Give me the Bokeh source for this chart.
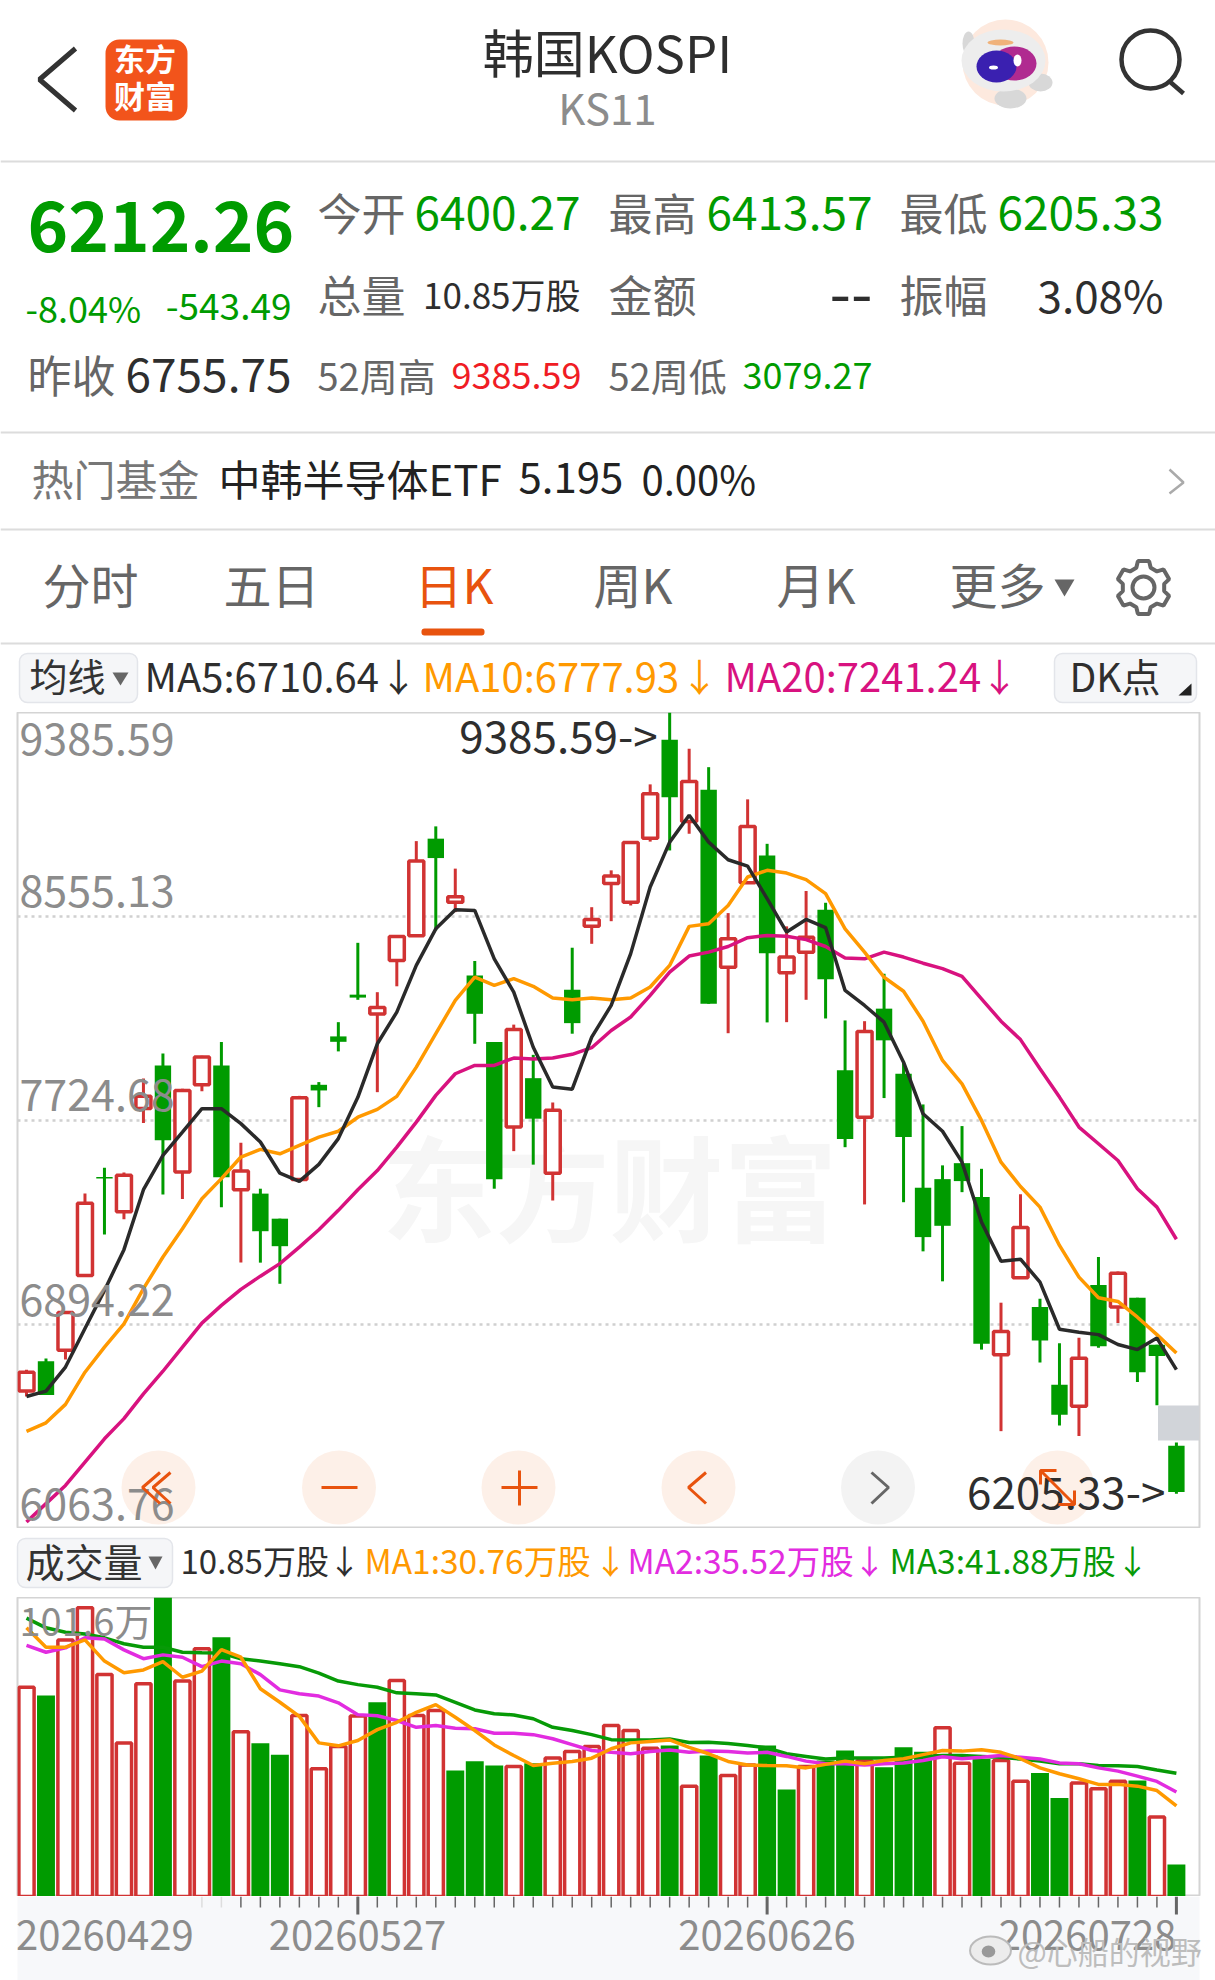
import numpy as np
from bokeh.core.properties import value
from bokeh.embed import file_html
from bokeh.layouts import column
from bokeh.models import FixedTicker, Grid, Range1d
from bokeh.plotting import figure
from bokeh.resources import INLINE

FONT = "Noto Sans CJK SC"
RED = "#d13333"
GREEN = "#009b00"
ORANGE = "#ff9900"
GRAY = "#8c8c8c"
DARK = "#2e2e2e"
BTN = "#e8530e"

opens = [6623, 6745, 6789, 7094, 7495, 7353, 7774, 7949, 7515, 7870, 7949, 7443, 7427, 7325, 7484,
         7870, 8067, 8237, 8158, 8376, 8477, 8872, 8613, 8315, 8044, 7698, 7897, 7510, 8257, 8515,
         8689, 8613, 8874, 9275, 8942, 9071, 8349, 8693, 8803, 8326, 8410, 8583, 7929, 7738, 8180,
         7915, 7451, 7486, 7551, 7413, 6771, 7085, 6965, 6649, 6561, 7055, 6965, 7003, 6812, 6400.27]
closes = [6700, 6607, 6943, 7388, 7489, 7502, 7823, 7644, 7847, 7983, 7494, 7519, 7274, 7213, 7817,
          7847, 8045, 8225, 8185, 8474, 8781, 8793, 8636, 8159, 7486, 8095, 7732, 7766, 8121, 8543,
          8720, 8856, 9055, 9041, 9105, 8200, 8465, 8922, 8406, 8390, 8471, 8300, 7649, 8087, 8051,
          7657, 7250, 7296, 7478, 6816, 6866, 7289, 6829, 6527, 6757, 6806, 7103, 6700, 6766, 6212.26]
highs = [6710, 6756, 6943, 7427, 7532, 7513, 7896, 7997, 7854, 7988, 8044, 7634, 7447, 7325, 7825,
         7881, 8125, 8448, 8247, 8474, 8862, 8922, 8750, 8374, 8044, 8115, 7992, 7798, 8428, 8593,
         8743, 8862, 9093, 9385.59, 9238, 9163, 8569, 9032, 8851, 8515, 8659, 8611, 8132, 8129, 8322,
         7962, 7790, 7542, 7702, 7528, 6983, 7424, 6999, 6818, 6840, 7169, 7110, 7003, 6812, 6413.57]
lows = [6601, 6607, 6752, 7094, 7261, 7323, 7714, 7423, 7405, 7844, 7372, 7147, 7146, 7060, 7480,
        7779, 8006, 8216, 7840, 8271, 8477, 8499, 8573, 8037, 7447, 7600, 7545, 7399, 8078, 8444,
        8536, 8600, 8860, 8824, 8892, 8200, 8080, 8693, 8124, 8125, 8216, 8140, 7616, 7383, 7816,
        7392, 7192, 7070, 7433, 6792, 6460, 7085, 6740, 6483, 6440, 6800, 6900, 6660, 6566, 6205.33]

ma5 = [6601, 6623, 6721, 6878, 7033, 7199, 7443, 7583, 7677, 7773, 7773, 7712, 7637, 7510, 7477,
       7546, 7651, 7819, 8037, 8166, 8356, 8505, 8583, 8580, 8383, 8247, 8023, 7861, 7852, 8064,
       8193, 8404, 8675, 8858, 8967, 8858, 8786, 8760, 8628, 8492, 8543, 8510, 8254, 8193, 8125,
       7962, 7752, 7681, 7555, 7311, 7152, 7160, 7067, 6875, 6863, 6853, 6813, 6792, 6839, 6710.64]
ma10 = [6459, 6494, 6569, 6700, 6802, 6897, 7040, 7169, 7284, 7406, 7488, 7576, 7607, 7589, 7623,
        7657, 7681, 7738, 7770, 7823, 7942, 8078, 8214, 8308, 8275, 8302, 8271, 8223, 8216, 8223,
        8216, 8223, 8268, 8356, 8515, 8526, 8600, 8716, 8743, 8732, 8705, 8648, 8505, 8410, 8308,
        8251, 8129, 7969, 7874, 7725, 7555, 7456, 7372, 7216, 7087, 7003, 6988, 6924, 6853, 6777.93]
ma20 = [6090, 6165, 6239, 6334, 6429, 6511, 6612, 6704, 6802, 6900, 6972, 7037, 7091, 7142, 7209,
        7280, 7359, 7443, 7521, 7616, 7718, 7827, 7915, 7949, 7949, 7979, 7975, 7979, 7994, 8021,
        8091, 8146, 8234, 8329, 8394, 8410, 8433, 8469, 8478, 8475, 8461, 8433, 8386, 8383, 8410,
        8390, 8365, 8343, 8311, 8220, 8129, 8054, 7935, 7820, 7698, 7630, 7562, 7447, 7372, 7241.24]

volumes = [71.1, 68.3, 87.2, 98.1, 75.4, 52.2, 72.3, 101.6, 73.2, 84.2, 88.1, 56.0, 52.1, 48.2, 61.5,
           43.4, 51.0, 61.3, 66.0, 73.4, 61.5, 63.2, 42.8, 46.0, 44.5, 44.2, 45.3, 47.1, 49.3, 51.0,
           58.1, 56.4, 50.4, 51.3, 37.5, 47.9, 41.1, 44.7, 51.3, 36.4, 44.2, 46.2, 49.6, 46.2, 43.9,
           50.7, 49.2, 57.3, 45.3, 46.7, 46.2, 39.2, 42.0, 33.5, 38.6, 36.6, 39.2, 39.4, 27.0, 10.85]
vol_up = [1, 0, 1, 1, 1, 1, 1, 0, 1, 1, 0, 1, 0, 0, 1,
          1, 1, 1, 0, 1, 1, 1, 0, 0, 0, 1, 0, 1, 1, 1,
          1, 1, 1, 0, 1, 0, 1, 1, 0, 0, 1, 0, 0, 1, 0,
          0, 0, 1, 1, 0, 1, 1, 0, 0, 1, 1, 1, 0, 1, 0]
vol_ma1 = [91.3, 84.7, 84.7, 87.2, 80.0, 76.0, 77.0, 79.8, 74.5, 76.6, 83.9, 81.3, 70.6, 66.0, 61.2,
           52.2, 51.2, 53.0, 56.7, 59.2, 62.6, 65.2, 60.9, 56.4, 51.5, 47.9, 44.5, 45.3, 45.9, 47.0,
           50.2, 52.2, 52.7, 53.2, 50.7, 48.5, 45.9, 44.7, 44.5, 44.4, 43.7, 44.9, 46.0, 45.1, 46.2,
           46.8, 48.2, 49.6, 49.4, 49.9, 49.0, 46.8, 43.7, 41.7, 40.0, 38.1, 38.1, 37.5, 36.0, 30.76]
vol_ma2 = [85.3, 83.0, 84.5, 87.9, 87.5, 83.8, 80.8, 82.1, 81.3, 78.1, 80.0, 79.1, 75.4, 70.2, 68.9,
           68.1, 65.8, 61.8, 61.4, 59.8, 57.5, 58.1, 57.2, 57.0, 55.5, 55.5, 55.0, 53.6, 51.6, 49.6,
           49.0, 48.5, 49.3, 49.8, 49.0, 49.4, 49.3, 48.8, 49.0, 47.6, 46.0, 45.1, 45.1, 44.7, 45.1,
           45.4, 46.2, 47.5, 46.8, 47.3, 47.9, 47.3, 46.7, 45.4, 45.1, 43.7, 42.6, 40.9, 39.1, 35.52]
vol_ma3 = [94.6, 91.3, 89.8, 89.2, 87.9, 85.9, 84.7, 84.7, 83.0, 82.8, 82.7, 80.8, 80.0, 79.1, 78.1,
           75.9, 73.2, 72.0, 71.1, 69.2, 68.9, 68.5, 66.0, 63.4, 62.1, 61.7, 60.4, 57.5, 56.4, 55.0,
           53.3, 53.2, 53.2, 53.5, 52.3, 52.4, 52.0, 51.3, 50.5, 48.5, 47.6, 46.7, 47.1, 47.1, 47.1,
           47.3, 47.6, 47.9, 47.9, 47.6, 47.3, 46.7, 46.0, 45.1, 45.1, 44.5, 44.4, 44.2, 43.0, 41.88]

price_ticks = [9385.59, 8555.13, 7724.68, 6894.22, 6063.76]
date_ticks = [17, 38, 59]
date_labels = ["20260527", "20260626", "20260728"]
minor_ticks = list(range(11, 59))
faint_ticks = [9, 10]

n = len(opens)
idx = np.arange(n)
opens = np.array(opens)
closes = np.array(closes)
highs = np.array(highs)
lows = np.array(lows)
volumes = np.array(volumes)
vol_up = np.array(vol_up) == 1
up = closes > opens


def x_of(px):
    return (px - 26) / 19.49


def y_of(py):
    return 9385.59 - (py - 712) * 3321.83 / 816


def txt(fig, x, y, s, size, color, align="left", style="normal"):
    fig.text(x=[x], y=[y], text=[s], text_font=value(FONT), text_font_size=f"{size}px",
             text_color=color, text_align=align, text_baseline="middle",
             text_font_style=style)


# same as txt, less the font's side bearing and its low middle baseline
def htxt(fig, x, y, s, size, color, align="left", style="normal"):
    txt(fig, x - 2 if align == "left" else x, y - 3, s, size, color, align, style)


def make_fig(height, x_range, y_range, left=0, right=0):
    fig = figure(width=1215, height=height, x_range=x_range, y_range=y_range,
                 x_axis_type=None, y_axis_type=None, toolbar_location=None,
                 output_backend="svg", min_border_left=left, min_border_right=right,
                 min_border_top=0, min_border_bottom=0, frame_align=False)
    return fig


# header, drawn in page pixels
head = make_fig(712, Range1d(0, 1215), Range1d(712, 0))
head.outline_line_color = None

for yy in [161, 432, 529, 643]:
    head.line([0, 1215], [yy, yy], color="#dcdcdc", line_width=2)

head.line([75, 39, 75], [48, 79, 110], color="#333333", line_width=5)
head.quad(left=105, right=187, top=39, bottom=120, fill_color="#f2541b", line_color=None, border_radius=14)
htxt(head, 144.5, 60, "东方", 31, "white", "center", "bold")
htxt(head, 144.5, 97, "财富", 31, "white", "center", "bold")

htxt(head, 607, 53, "韩国KOSPI", 51, DARK, "center")
htxt(head, 607, 109, "KS11", 42, GRAY, "center")

# robot
head.ellipse([1005], [62], width=86, height=86, fill_color="#fde9de", line_color=None)
head.ellipse([968, 1040, 1010], [43, 82, 98], width=[12, 24, 32], height=[24, 18, 20],
             fill_color="#d8d8d8", line_color=None)
head.ellipse([1003], [60], width=84, height=62, fill_color="#ededed", line_color=None)
head.ellipse([1000], [42], width=26, height=6, fill_color="#f0b27a", line_color=None)
head.ellipse([1014], [63], width=44, height=34, fill_color="#b02a90", line_color=None)
head.ellipse([996], [66], width=40, height=32, fill_color="#3a20b0", line_color=None)
head.ellipse([1017, 993], [60, 67], width=[8, 9], height=[12, 4], fill_color="white", line_color=None)

# search
head.ellipse([1150], [59], width=58, height=58, fill_color=None, line_color="#333333", line_width=4.5)
head.line([1168, 1183], [80, 93], color="#333333", line_width=4.5)

htxt(head, 29, 229, "6212.26", 69, GREEN, style="bold")
htxt(head, 319, 214, "今开", 44, "#666666")
htxt(head, 580, 215, "6400.27", 46, GREEN, "right")
htxt(head, 610, 214, "最高", 44, "#666666")
htxt(head, 872, 215, "6413.57", 46, GREEN, "right")
htxt(head, 901, 214, "最低", 44, "#666666")
htxt(head, 1163, 215, "6205.33", 46, GREEN, "right")

htxt(head, 319, 296, "总量", 44, "#666666")
htxt(head, 580, 296, "10.85万股", 35, DARK, "right")
htxt(head, 610, 296, "金额", 44, "#666666")
htxt(head, 872, 296, "--", 62, DARK, "right")
htxt(head, 901, 296, "振幅", 44, "#666666")
htxt(head, 1163, 296, "3.08%", 44, DARK, "right")

htxt(head, 27, 309, "-8.04%", 36, GREEN)
htxt(head, 291, 309, "-543.49", 37, GREEN, "right")

htxt(head, 29, 376, "昨收", 44, "#666666")
htxt(head, 291, 377, "6755.75", 46, DARK, "right")
htxt(head, 319, 377, "52周高", 38, "#666666")
htxt(head, 581, 378, "9385.59", 36, "#f01c24", "right")
htxt(head, 610, 377, "52周低", 38, "#666666")
htxt(head, 872, 378, "3079.27", 36, GREEN, "right")

htxt(head, 33, 480, "热门基金", 42, "#777777")
htxt(head, 220, 480, "中韩半导体ETF", 42, "#222222")
htxt(head, 520, 480, "5.195", 42, "#222222")
htxt(head, 643, 480, "0.00%", 40, "#222222")
head.line([1169, 1183, 1169], [469, 482, 493], color="#aaaaaa", line_width=2.5)

for xx, s, col in [(44, "分时", "#666666"), (225, "五日", "#666666"), (416, "日K", BTN),
                   (595, "周K", "#666666"), (778, "月K", "#666666"), (951, "更多", "#666666")]:
    htxt(head, xx, 585, s, 48, col)
head.patch([1054, 1074, 1064], [579, 579, 596], fill_color="#666666", line_color=None)
head.quad(left=421, right=484, top=628, bottom=635, fill_color=BTN, line_color=None, border_radius=3)

# gear icon
gx, gy = [], []
for k in range(6):
    a = -90 + 60 * k
    for r, d in [(27, -12), (27, 12), (21, 20), (21, 40)]:
        gx.append(1143 + r * np.cos(np.radians(a + d)))
        gy.append(587 + r * np.sin(np.radians(a + d)))
head.patch(gx, gy, fill_color=None, line_color="#666666", line_width=4)
head.ellipse([1143], [587], width=22, height=22, fill_color=None, line_color="#666666", line_width=4)

# indicator row above the price chart
head.quad(left=19, right=137, top=653, bottom=702, fill_color="#f5f6f8", line_color="#e3e5ea",
          line_width=1.5, border_radius=8)
htxt(head, 31, 677, "均线", 38, "#333333")
head.patch([112, 128, 120], [672, 672, 685], fill_color="#666666", line_color=None)
htxt(head, 146, 677, "MA5:6710.64", 40, DARK)
htxt(head, 398, 677, "↓", 38, DARK, "center")
htxt(head, 424, 677, "MA10:6777.93", 40, ORANGE)
htxt(head, 699, 677, "↓", 38, ORANGE, "center")
htxt(head, 726, 677, "MA20:7241.24", 40, "#d8127f")
htxt(head, 999, 677, "↓", 38, "#d8127f", "center")
head.quad(left=1054, right=1196, top=653, bottom=702, fill_color="#f5f6f8", line_color="#e3e5ea",
          line_width=1.5, border_radius=8)
htxt(head, 1071, 677, "DK点", 39, DARK)
head.patch([1178, 1191, 1191], [695, 695, 683], fill_color="#222222", line_color=None)

# price chart
price = make_fig(816, Range1d(x_of(17), x_of(1199)), Range1d(6063.76, 9385.59), left=17, right=16)
price.outline_line_color = "#d4d4d4"
price.outline_line_width = 2
price.add_layout(Grid(dimension=1, ticker=FixedTicker(ticks=price_ticks[1:4]), grid_line_color="#d0d0d0",
                      grid_line_width=2.5, grid_line_dash="3 4"))

txt(price, x_of(609), y_of(1183), "东方财富", 114, "#f6f6f6", "center", "bold")

price.segment(idx[up], highs[up], idx[up], lows[up], color=RED, line_width=3)
price.segment(idx[~up], highs[~up], idx[~up], lows[~up], color=GREEN, line_width=3)
price.vbar(idx[up], width=0.77, top=closes[up], bottom=opens[up], fill_color="white", line_color=RED, line_width=3.5)
price.vbar(idx[~up], width=0.84, top=opens[~up], bottom=closes[~up], fill_color=GREEN, line_color=None)

price.quad(left=x_of(1157.5), right=x_of(1199), top=y_of(1405), bottom=y_of(1440), fill_color="#d1d4d9", line_color=None)

btn_x = [158, 338.5, 518, 698, 1057]
price.scatter([x_of(b) for b in btn_x], [y_of(1487)] * 5, size=74, fill_color="#fdeee6", fill_alpha=0.9, line_color=None)
price.scatter([x_of(877.5)], [y_of(1487)], size=74, fill_color="#f2f2f2", fill_alpha=0.9, line_color=None)

price.line(idx, ma20, color="#d8127f", line_width=3.5)
price.line(idx, ma10, color=ORANGE, line_width=3.5)
price.line(idx, ma5, color="#2a2a2a", line_width=3.5)

for tick, yy in zip(price_ticks, [738, 890, 1094, 1299, 1503]):
    txt(price, x_of(19), y_of(yy), f"{tick:.2f}", 43, GRAY)
txt(price, 33 - 12 / 19.49, y_of(733), "9385.59->", 44, DARK, "right")
txt(price, 59 - 11 / 19.49, y_of(1489), "6205.33->", 44, DARK, "right")


def icon(xs, ys, color=BTN):
    price.line([x_of(v) for v in xs], [y_of(v) for v in ys], color=color, line_width=3)


icon([159.5, 142, 159.5], [1472, 1487, 1503])
icon([170, 152.5, 170], [1472, 1487, 1503])
icon([321, 357], [1487, 1487])
icon([501, 537], [1487, 1487])
icon([519, 519], [1470, 1505])
icon([705.5, 688, 705.5], [1472, 1487, 1503])
icon([871, 888, 871], [1472, 1487, 1503], "#666666")
icon([1040, 1074], [1470, 1504])
icon([1056, 1040, 1040], [1470, 1470, 1484])
icon([1058, 1074, 1074], [1504, 1504, 1490])

# volume legend row
mid = make_fig(69, Range1d(0, 1215), Range1d(1597, 1528))
mid.outline_line_color = None
mid.quad(left=17, right=172, top=1538, bottom=1587, fill_color="#f5f6f8", line_color="#e3e5ea",
         line_width=1.5, border_radius=8)
htxt(mid, 27, 1562, "成交量", 39, "#333333")
mid.patch([148, 162, 155], [1556, 1556, 1569], fill_color="#666666", line_color=None)
htxt(mid, 182, 1562, "10.85万股", 33, DARK)
htxt(mid, 344, 1562, "↓", 33, DARK, "center")
htxt(mid, 366, 1562, "MA1:30.76万股", 33.5, ORANGE)
htxt(mid, 610, 1562, "↓", 33, ORANGE, "center")
htxt(mid, 629, 1562, "MA2:35.52万股", 33.5, "#e22ce0")
htxt(mid, 869, 1562, "↓", 33, "#e22ce0", "center")
htxt(mid, 891, 1562, "MA3:41.88万股", 33.5, "#079a07")
htxt(mid, 1132, 1562, "↓", 33, "#079a07", "center")

# volume chart
vol = make_fig(299, Range1d(x_of(17), x_of(1199)), Range1d(0, 101.6), left=17, right=16)
vol.outline_line_color = "#d4d4d4"
vol.outline_line_width = 2
vol.vbar(idx[vol_up], width=0.78, top=volumes[vol_up], bottom=0, fill_color="white", line_color=RED, line_width=3.5)
vol.vbar(idx[~vol_up], width=0.92, top=volumes[~vol_up], bottom=0, fill_color=GREEN, line_color=None)
vol.line(idx, vol_ma3, color="#079a07", line_width=3.5)
vol.line(idx, vol_ma2, color="#e22ce0", line_width=3.5)
vol.line(idx, vol_ma1, color=ORANGE, line_width=3.5)
txt(vol, x_of(19), 101.6 * (1 - 22 / 299), "101.6万", 38, GRAY)

# date strip
strip = make_fig(84, Range1d(x_of(0), x_of(1215)), Range1d(84, 0))
strip.outline_line_color = None
strip.quad(left=x_of(17), right=x_of(1199), top=0, bottom=84, fill_color="#f7f8fa", line_color=None)
strip.segment(minor_ticks, [0] * len(minor_ticks), minor_ticks, [11] * len(minor_ticks), color="#666666", line_width=1.5)
strip.segment(faint_ticks, [0, 0], faint_ticks, [11, 11], color="#dddddd", line_width=1.5)
strip.segment(date_ticks, [0] * 3, date_ticks, [18] * 3, color="#666666", line_width=3)
txt(strip, x_of(15.5), 39, "20260429", 40, GRAY)
for tick, lab, xx in zip(date_ticks, date_labels, [357, 766.5, 1087]):
    txt(strip, x_of(xx), 39, lab, 40, GRAY, "center")

strip.ellipse([x_of(990)], [54], width=2.1, height=28, fill_color="#ececec", line_color="#bbbbbb", line_width=2)
strip.ellipse([x_of(988)], [55], width=0.7, height=12, fill_color="#999999", line_color=None)
txt(strip, x_of(1017), 54, "@心船的视野", 31, "#bdbdbd")

layout = column(head, price, mid, vol, strip, spacing=0)
open("out.html", "w").write(file_html(layout, INLINE))
